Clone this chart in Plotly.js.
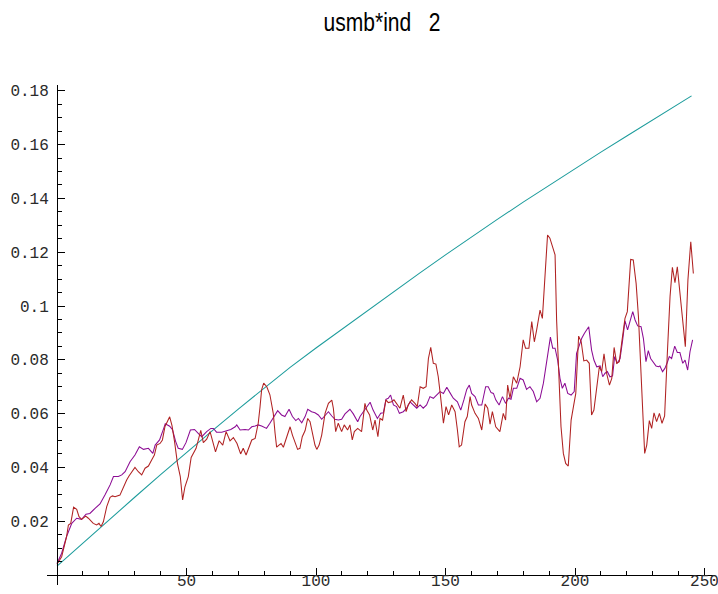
<!DOCTYPE html>
<html>
<head>
<meta charset="utf-8">
<script src="https://cdn.plot.ly/plotly-3.0.1.min.js"></script>
<style>html,body{margin:0;padding:0;background:#fff;}#chart{width:718px;height:594px;}</style>
</head>
<body>
<div id="chart"></div>
<script>
// ---- data ----
const titleText = "usmb*ind   2";

const tealX = [0,10,20,30,40,50,60,70,80,90,100,110,120,130,140,150,160,170,180,190,200,210,220,230,240,245];
const tealY = [0.0033,0.0119,0.0204,0.0289,0.0373,0.0456,0.0537,0.0617,0.0696,0.0772,0.0844,0.0914,0.0984,0.1053,0.1122,0.1190,0.1257,0.1322,0.1386,0.1449,0.1511,0.1572,0.1632,0.1692,0.1751,0.1781];

const redX = [0,1.8,3.7,4.4,5.3,6.4,7.6,8.5,9.5,11.1,12.1,14.0,15.3,16.2,17.0,17.9,19.2,20.5,21.4,22.4,24.3,25.6,26.9,27.8,29.1,30.1,31.4,32.7,34.0,35.3,36.6,37.6,38.5,39.8,40.7,41.7,43.5,44.4,45.4,46.5,47.6,48.5,49.4,50.7,51.8,52.9,53.7,54.4,55.5,56.5,57.8,59.1,60.4,61.2,62.6,64.0,65.3,66.8,68.1,69.5,70.9,71.9,73.0,73.9,75.2,76.5,77.7,78.4,79.0,79.8,81.0,82.2,83.5,84.2,84.8,85.7,86.5,87.4,88.7,90.0,90.9,91.9,92.9,93.8,94.7,95.8,96.8,97.7,98.6,99.6,100.3,101.2,102.2,103.5,104.8,106.1,106.7,107.6,108.6,109.9,110.9,112.2,113.1,114.0,114.8,116.1,117.6,118.9,119.6,120.7,121.9,122.8,123.9,124.7,125.7,127.0,127.9,129.2,130.1,131.1,132.4,133.7,134.8,135.6,136.9,138.2,139.1,140.2,141.4,142.5,143.4,144.3,145.3,146.3,147.2,148.1,149.2,150.2,151.2,152.4,153.7,154.6,155.3,156.2,157.5,158.4,159.5,160.1,161.4,162.7,164.0,165.3,166.3,167.2,168.1,169.4,171.0,172.3,173.2,174.0,174.9,176.2,177.5,178.8,180.0,180.9,182.2,183.3,184.3,185.2,186.5,187.4,188.2,189.4,190.3,191.2,192.3,192.9,193.8,194.6,195.5,196.4,197.4,198.5,199.4,200.3,201.4,202.4,203.4,204.5,205.5,206.4,207.3,208.4,209.4,210.3,211.2,212.2,213.3,214.2,215.1,216.1,217.1,218.0,219.3,220.2,221.5,222.5,223.6,224.5,225.4,226.1,226.9,227.7,228.7,229.6,230.5,231.5,232.6,233.6,234.6,235.6,236.7,237.6,238.6,239.5,240.5,241.6,242.6,243.6,244.7,245.7];
const redY = [0.0040,0.0068,0.0143,0.0186,0.0192,0.0252,0.0244,0.0217,0.0207,0.0219,0.0211,0.0192,0.0186,0.0192,0.0180,0.0198,0.0254,0.0289,0.0294,0.0291,0.0297,0.0328,0.0353,0.0368,0.0384,0.0400,0.0384,0.0372,0.0397,0.0405,0.0428,0.0446,0.0483,0.0489,0.0502,0.0552,0.0588,0.0555,0.0495,0.0415,0.0366,0.0279,0.0328,0.0366,0.0437,0.0455,0.0471,0.0496,0.0538,0.0492,0.0505,0.0533,0.0492,0.0458,0.0499,0.0483,0.0533,0.0499,0.0511,0.0489,0.0450,0.0471,0.0446,0.0471,0.0502,0.0508,0.0564,0.0626,0.0688,0.0713,0.0700,0.0670,0.0601,0.0527,0.0475,0.0483,0.0489,0.0475,0.0514,0.0551,0.0520,0.0489,0.0467,0.0471,0.0514,0.0537,0.0582,0.0570,0.0527,0.0483,0.0467,0.0483,0.0520,0.0601,0.0638,0.0650,0.0620,0.0533,0.0564,0.0533,0.0558,0.0539,0.0558,0.0502,0.0533,0.0545,0.0533,0.0638,0.0613,0.0595,0.0539,0.0576,0.0514,0.0582,0.0576,0.0651,0.0641,0.0644,0.0651,0.0638,0.0620,0.0669,0.0607,0.0632,0.0651,0.0638,0.0626,0.0700,0.0694,0.0700,0.0805,0.0846,0.0787,0.0784,0.0737,0.0663,0.0564,0.0626,0.0595,0.0632,0.0607,0.0539,0.0477,0.0483,0.0570,0.0589,0.0663,0.0632,0.0601,0.0582,0.0539,0.0636,0.0620,0.0561,0.0607,0.0551,0.0533,0.0601,0.0576,0.0706,0.0657,0.0737,0.0713,0.0774,0.0874,0.0843,0.0843,0.0942,0.0867,0.0911,0.0985,0.0954,0.1090,0.1264,0.1252,0.1221,0.1190,0.0948,0.0700,0.0551,0.0452,0.0415,0.0405,0.0576,0.0626,0.0675,0.0888,0.0867,0.0796,0.0799,0.0787,0.0595,0.0613,0.0688,0.0774,0.0756,0.0822,0.0750,0.0706,0.0731,0.0846,0.0787,0.0793,0.0861,0.0954,0.0979,0.1173,0.1171,0.1084,0.0960,0.0762,0.0589,0.0452,0.0483,0.0574,0.0545,0.0603,0.0570,0.0601,0.0564,0.0591,0.0812,0.1035,0.1144,0.1087,0.1146,0.1041,0.0948,0.0849,0.1097,0.1239,0.1121];

const purpleX = [0,1.8,3.7,5.7,7.6,9.5,11.2,12.7,14.7,16.6,18.5,20.5,21.8,23.7,25.0,26.3,28.2,30.1,31.8,33.4,35.3,37.0,37.9,39.6,41.2,41.8,43.5,44.6,45.8,46.8,48.4,49.8,51.5,53.1,54.8,55.9,57.8,59.4,60.4,61.6,63.6,65.5,67.1,68.8,69.4,70.7,72.6,73.9,75.2,76.5,77.7,79.0,80.3,80.9,82.2,83.5,85.2,86.7,88.0,89.6,90.9,92.2,93.2,94.5,95.8,96.8,98.3,99.6,100.9,102.2,103.5,104.8,106.1,107.3,108.6,109.9,111.2,113.1,114.4,116.1,117.0,118.3,119.6,120.9,122.0,123.7,125.0,126.0,127.0,127.9,128.8,129.9,131.1,132.2,133.7,135.0,136.3,137.6,138.9,140.2,141.4,142.7,144.0,145.3,146.6,147.9,149.2,150.5,151.7,153.0,154.6,155.9,157.1,158.2,159.2,160.1,161.4,162.7,164.0,165.5,166.5,167.6,168.5,169.4,170.7,172.0,173.2,174.3,175.3,176.2,177.5,178.8,180.0,181.3,182.6,183.9,185.2,186.5,187.8,188.7,189.7,190.5,191.4,192.3,193.3,194.2,195.1,196.1,197.2,198.5,199.7,200.6,201.5,202.6,203.6,204.4,205.3,206.4,207.3,208.4,209.7,210.7,211.6,212.5,213.5,214.5,215.3,216.3,217.4,218.4,219.3,220.3,221.2,222.3,223.2,224.2,225.5,226.4,227.4,228.3,229.2,230.2,231.3,232.2,232.8,233.8,234.7,235.6,236.4,237.3,238.5,239.5,240.5,241.6,242.5,243.5,244.4,245.4];
const purpleY = [0.0043,0.0081,0.0143,0.0192,0.0211,0.0207,0.0226,0.0229,0.0248,0.0264,0.0297,0.0335,0.0366,0.0366,0.0372,0.0384,0.0421,0.0446,0.0477,0.0467,0.0471,0.0452,0.0483,0.0502,0.0545,0.0562,0.0553,0.0540,0.0497,0.0471,0.0467,0.0492,0.0539,0.0541,0.0524,0.0514,0.0533,0.0545,0.0545,0.0531,0.0531,0.0535,0.0541,0.0551,0.0558,0.0539,0.0541,0.0539,0.0551,0.0554,0.0558,0.0554,0.0548,0.0545,0.0564,0.0586,0.0611,0.0595,0.0589,0.0616,0.0589,0.0574,0.0582,0.0566,0.0589,0.0616,0.0607,0.0603,0.0595,0.0579,0.0595,0.0607,0.0591,0.0579,0.0576,0.0579,0.0599,0.0616,0.0599,0.0570,0.0589,0.0607,0.0626,0.0642,0.0614,0.0582,0.0601,0.0603,0.0653,0.0657,0.0669,0.0632,0.0626,0.0601,0.0607,0.0620,0.0644,0.0632,0.0620,0.0632,0.0620,0.0632,0.0663,0.0657,0.0669,0.0682,0.0675,0.0698,0.0678,0.0657,0.0644,0.0613,0.0651,0.0690,0.0706,0.0675,0.0663,0.0632,0.0632,0.0700,0.0700,0.0678,0.0675,0.0651,0.0632,0.0663,0.0638,0.0657,0.0653,0.0694,0.0694,0.0731,0.0725,0.0690,0.0700,0.0682,0.0644,0.0657,0.0713,0.0774,0.0836,0.0884,0.0843,0.0843,0.0799,0.0731,0.0694,0.0713,0.0675,0.0669,0.0682,0.0824,0.0849,0.0880,0.0898,0.0908,0.0923,0.0836,0.0799,0.0774,0.0777,0.0737,0.0750,0.0756,0.0737,0.0740,0.0812,0.0787,0.0805,0.0874,0.0945,0.0911,0.0942,0.0979,0.0948,0.0926,0.0923,0.0880,0.0793,0.0834,0.0805,0.0793,0.0777,0.0774,0.0777,0.0756,0.0768,0.0789,0.0812,0.0805,0.0851,0.0827,0.0827,0.0787,0.0799,0.0762,0.0830,0.0874];

const xTickVals = [0,50,100,150,200,250];
const xTickText = ["","50","100","150","200","250"];
const yTickVals = [0.02,0.04,0.06,0.08,0.1,0.12,0.14,0.16,0.18];
const yTickText = ["0.02","0.04","0.06","0.08","0.1","0.12","0.14","0.16","0.18"];

// ---- minor tick positions ----
const xMinor = []; for (let v = 10; v <= 250; v += 10) if (v % 50 !== 0) xMinor.push(v);
const yMinor = []; for (let k = 1; k <= 36; k++) if (k % 4 !== 0) yMinor.push(+(k * 0.005).toFixed(3));

const W = 718, H = 594;
const mL = 47, mR = 3, mT = 85, mB = 9;
const plotW = W - mL - mR, plotH = H - mT - mB;
const xPxPerUnit = 2.59, yPxPerUnit = 2690;
const originPx = 10; // origin offset from plot's left/bottom edge
const xRange = [-originPx / xPxPerUnit, (plotW - originPx) / xPxPerUnit];
const yRange = [-originPx / yPxPerUnit, (plotH - originPx) / yPxPerUnit];

const lineW = 1.05;
const traces = [
  {x: tealX, y: tealY, type: "scatter", mode: "lines", line: {color: "#1d9c9c", width: lineW}},
  {x: purpleX, y: purpleY, type: "scatter", mode: "lines", line: {color: "#8c0c94", width: lineW}},
  {x: redX, y: redY, type: "scatter", mode: "lines", line: {color: "#b02222", width: lineW}}
];

const tickFont = {family: "Liberation Mono, DejaVu Sans Mono, monospace", size: 16, color: "#2a2a2a"};

const layout = {
  width: W, height: H,
  margin: {l: mL, r: mR, t: mT, b: mB, pad: 0},
  paper_bgcolor: "#fff", plot_bgcolor: "#fff",
  showlegend: false,
  title: {
    text: titleText,
    font: {family: "Liberation Sans Narrow, Liberation Sans, Arial, sans-serif", size: 25, color: "#000"},
    x: 382 / W, xanchor: "center", xref: "container",
    y: 1 - 22 / H, yanchor: "middle", yref: "container"
  },
  xaxis: {
    range: xRange, anchor: "free", position: originPx / plotH,
    showline: true, linecolor: "#000", linewidth: 1,
    showgrid: false, zeroline: false,
    tickmode: "array", tickvals: xTickVals, ticktext: xTickText,
    ticks: "inside", ticklen: 7, tickcolor: "#000", tickwidth: 1,
    minor: {tickmode: "array", tickvals: xMinor, ticks: "inside", ticklen: 4, tickcolor: "#000", tickwidth: 1, showgrid: false},
    tickfont: tickFont, ticklabelstandoff: -9, ticklabeloverflow: "allow", fixedrange: true
  },
  yaxis: {
    range: yRange, anchor: "free", position: originPx / plotW,
    showline: true, linecolor: "#000", linewidth: 1,
    showgrid: false, zeroline: false,
    tickmode: "array", tickvals: yTickVals, ticktext: yTickText,
    ticks: "inside", ticklen: 7, tickcolor: "#000", tickwidth: 1,
    minor: {tickmode: "array", tickvals: yMinor, ticks: "inside", ticklen: 4, tickcolor: "#000", tickwidth: 1, showgrid: false},
    tickfont: tickFont, ticklabelstandoff: 5, ticklabeloverflow: "allow", fixedrange: true
  }
};

Plotly.newPlot("chart", traces, layout, {displayModeBar: false, staticPlot: true}).then(function (gd) {
  // the reference title uses a condensed face: narrow the real text to its width
  const t = gd.querySelector(".gtitle");
  if (t) { t.setAttribute("textLength", "117"); t.setAttribute("lengthAdjust", "spacingAndGlyphs"); }
});
</script>
</body>
</html>
